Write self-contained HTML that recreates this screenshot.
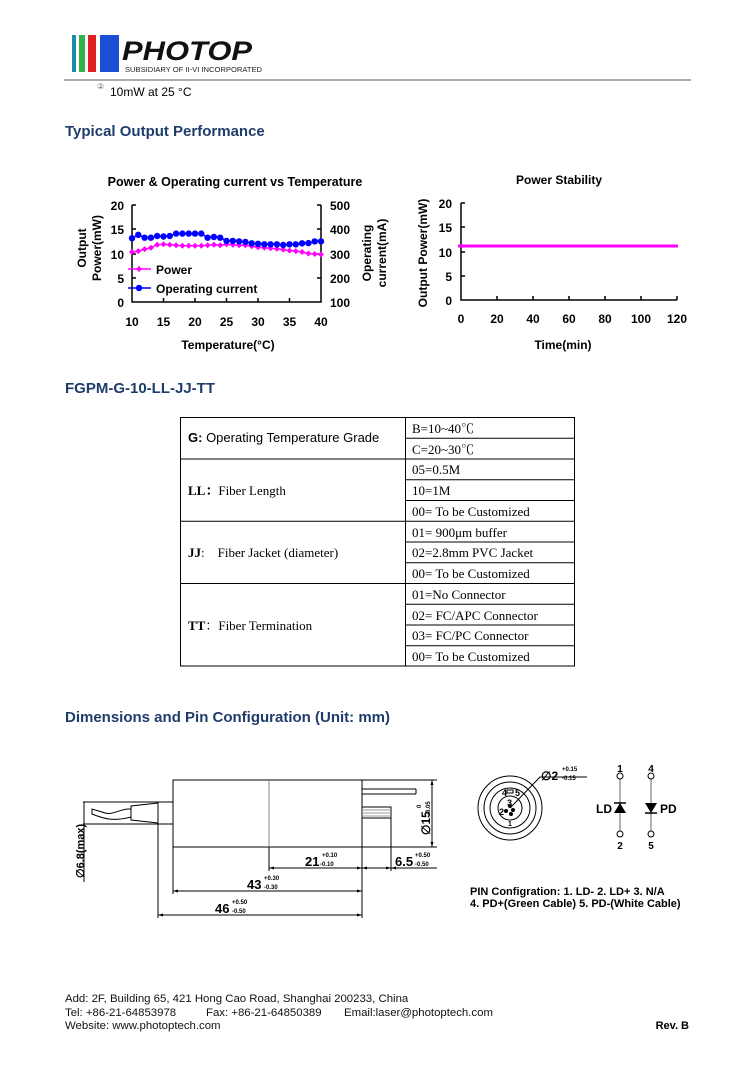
<!DOCTYPE html>
<html><head><meta charset="utf-8"><style>
html,body{margin:0;padding:0;background:#fff;}
svg{display:block;font-family:"Liberation Sans",Arial,sans-serif;}
.h{font-weight:bold;font-size:15px;fill:#1f3d6b;}
.b{font-weight:bold;font-size:12px;}
.t{font-family:"Liberation Serif","Noto Serif CJK SC",serif;font-size:13px;}
</style></head><body>
<svg width="754" height="1067" viewBox="0 0 754 1067" xmlns="http://www.w3.org/2000/svg">
<!-- header -->
<rect x="72" y="35" width="4" height="37" fill="#1a8ab0"/>
<rect x="79" y="35" width="6" height="37" fill="#2fb34a"/>
<rect x="88" y="35" width="8" height="37" fill="#e02020"/>
<rect x="100" y="35" width="19" height="37" fill="#1d4fd6"/>
<text x="122" y="60" font-size="27" font-weight="bold" font-style="italic" fill="#111" textLength="130" lengthAdjust="spacingAndGlyphs">PHOTOP</text>
<text x="125" y="72" font-size="7" fill="#222" textLength="137" lengthAdjust="spacingAndGlyphs">SUBSIDIARY OF II-VI INCORPORATED</text>
<line x1="64" y1="80" x2="691" y2="80" stroke="#777" stroke-width="1.2"/>
<text x="97" y="89" font-size="8" fill="#666">②</text>
<text x="110" y="96" font-size="12">10mW at 25 °C</text>
<text x="65" y="136" class="h">Typical Output Performance</text>

<!-- left chart -->
<text x="235" y="186" font-size="12.5" font-weight="bold" text-anchor="middle">Power &amp; Operating current vs Temperature</text>
<g stroke="#000" stroke-width="1.5" fill="none">
<polyline points="132,205 132,302 321,302 321,205"/>
</g>
<g stroke="#000" stroke-width="1.5">
<line x1="132" y1="205" x2="136" y2="205"/><line x1="132" y1="229" x2="136" y2="229"/><line x1="132" y1="254" x2="136" y2="254"/><line x1="132" y1="278" x2="136" y2="278"/>
<line x1="317" y1="205" x2="321" y2="205"/><line x1="317" y1="229" x2="321" y2="229"/><line x1="317" y1="254" x2="321" y2="254"/><line x1="317" y1="278" x2="321" y2="278"/>
<line x1="163.5" y1="302" x2="163.5" y2="298"/><line x1="195" y1="302" x2="195" y2="298"/><line x1="226.5" y1="302" x2="226.5" y2="298"/><line x1="258" y1="302" x2="258" y2="298"/><line x1="289.5" y1="302" x2="289.5" y2="298"/>
</g>
<g class="b" text-anchor="end">
<text x="124" y="210" class="b">20</text><text x="124" y="234" class="b">15</text><text x="124" y="259" class="b">10</text><text x="124" y="283" class="b">5</text><text x="124" y="307" class="b">0</text>
</g>
<g class="b">
<text x="330" y="210" class="b">500</text><text x="330" y="234" class="b">400</text><text x="330" y="259" class="b">300</text><text x="330" y="283" class="b">200</text><text x="330" y="307" class="b">100</text>
</g>
<g class="b" text-anchor="middle">
<text x="132" y="326" class="b">10</text><text x="163.5" y="326" class="b">15</text><text x="195" y="326" class="b">20</text><text x="226.5" y="326" class="b">25</text><text x="258" y="326" class="b">30</text><text x="289.5" y="326" class="b">35</text><text x="321" y="326" class="b">40</text>
<text x="228" y="349" class="b">Temperature(°C)</text>
</g>
<text transform="translate(86,248) rotate(-90)" class="b" text-anchor="middle">Output</text>
<text transform="translate(101,248) rotate(-90)" class="b" text-anchor="middle">Power(mW)</text>
<text transform="translate(371,253) rotate(-90)" class="b" text-anchor="middle">Operating</text>
<text transform="translate(386,253) rotate(-90)" class="b" text-anchor="middle">current(mA)</text>
<polyline fill="none" stroke="#ff00ff" stroke-width="1.5" points="132,252 138.3,251.1 144.6,249.1 150.9,247.7 157.2,244.8 163.5,244.3 169.8,244.8 176.1,245.3 182.4,245.7 188.7,245.7 195,245.7 201.3,245.7 207.6,245.3 213.9,244.8 220.2,245.3 226.5,244.3 232.8,244.8 239.1,245.3 245.4,245.3 251.7,246.2 258,247.2 264.3,247.7 270.6,248.2 276.9,248.7 283.2,249.6 289.5,250.6 295.8,251.1 302.1,252 308.4,253.5 314.7,254 321,254.5"/>
<g fill="#ff00ff">
<path d="M132 249l3 3-3 3-3-3z M138.3 248.1l3 3-3 3-3-3z M144.6 246.1l3 3-3 3-3-3z M150.9 244.7l3 3-3 3-3-3z M157.2 241.8l3 3-3 3-3-3z M163.5 241.3l3 3-3 3-3-3z M169.8 241.8l3 3-3 3-3-3z M176.1 242.3l3 3-3 3-3-3z M182.4 242.7l3 3-3 3-3-3z M188.7 242.7l3 3-3 3-3-3z M195 242.7l3 3-3 3-3-3z M201.3 242.7l3 3-3 3-3-3z M207.6 242.3l3 3-3 3-3-3z M213.9 241.8l3 3-3 3-3-3z M220.2 242.3l3 3-3 3-3-3z M226.5 241.3l3 3-3 3-3-3z M232.8 241.8l3 3-3 3-3-3z M239.1 242.3l3 3-3 3-3-3z M245.4 242.3l3 3-3 3-3-3z M251.7 243.2l3 3-3 3-3-3z M258 244.2l3 3-3 3-3-3z M264.3 244.7l3 3-3 3-3-3z M270.6 245.2l3 3-3 3-3-3z M276.9 245.7l3 3-3 3-3-3z M283.2 246.6l3 3-3 3-3-3z M289.5 247.6l3 3-3 3-3-3z M295.8 248.1l3 3-3 3-3-3z M302.1 249l3 3-3 3-3-3z M308.4 250.5l3 3-3 3-3-3z M314.7 251l3 3-3 3-3-3z M321 251.5l3 3-3 3-3-3z"/>
</g>
<polyline fill="none" stroke="#0000ff" stroke-width="1.5" points="132,238.2 138.3,234.8 144.6,237.7 150.9,237.7 157.2,236 163.5,236.5 169.8,236 176.1,233.6 182.4,233.6 188.7,233.6 195,233.6 201.3,233.6 207.6,237.7 213.9,237 220.2,237.7 226.5,240.9 232.8,240.9 239.1,241.4 245.4,241.9 251.7,243.3 258,243.8 264.3,244.3 270.6,244.3 276.9,244.3 283.2,245 289.5,244.3 295.8,244.3 302.1,243.3 308.4,243.1 314.7,241.4 321,241.4"/>
<g fill="#0000ff">
<circle cx="132" cy="238.2" r="3.2"/><circle cx="138.3" cy="234.8" r="3.2"/><circle cx="144.6" cy="237.7" r="3.2"/><circle cx="150.9" cy="237.7" r="3.2"/><circle cx="157.2" cy="236" r="3.2"/><circle cx="163.5" cy="236.5" r="3.2"/><circle cx="169.8" cy="236" r="3.2"/><circle cx="176.1" cy="233.6" r="3.2"/><circle cx="182.4" cy="233.6" r="3.2"/><circle cx="188.7" cy="233.6" r="3.2"/><circle cx="195" cy="233.6" r="3.2"/><circle cx="201.3" cy="233.6" r="3.2"/><circle cx="207.6" cy="237.7" r="3.2"/><circle cx="213.9" cy="237" r="3.2"/><circle cx="220.2" cy="237.7" r="3.2"/><circle cx="226.5" cy="240.9" r="3.2"/><circle cx="232.8" cy="240.9" r="3.2"/><circle cx="239.1" cy="241.4" r="3.2"/><circle cx="245.4" cy="241.9" r="3.2"/><circle cx="251.7" cy="243.3" r="3.2"/><circle cx="258" cy="243.8" r="3.2"/><circle cx="264.3" cy="244.3" r="3.2"/><circle cx="270.6" cy="244.3" r="3.2"/><circle cx="276.9" cy="244.3" r="3.2"/><circle cx="283.2" cy="245" r="3.2"/><circle cx="289.5" cy="244.3" r="3.2"/><circle cx="295.8" cy="244.3" r="3.2"/><circle cx="302.1" cy="243.3" r="3.2"/><circle cx="308.4" cy="243.1" r="3.2"/><circle cx="314.7" cy="241.4" r="3.2"/><circle cx="321" cy="241.4" r="3.2"/>
</g>
<line x1="128" y1="269" x2="151" y2="269" stroke="#ff00ff" stroke-width="1.5"/><path d="M139 266l3 3-3 3-3-3z" fill="#ff00ff"/>
<text x="156" y="274" class="b">Power</text>
<line x1="128" y1="288" x2="151" y2="288" stroke="#0000ff" stroke-width="1.5"/><circle cx="139" cy="288" r="3.2" fill="#0000ff"/>
<text x="156" y="293" class="b">Operating current</text>

<!-- right chart -->
<text x="559" y="184" class="b" text-anchor="middle">Power Stability</text>
<polyline points="461,203 461,300 677,300" fill="none" stroke="#000" stroke-width="1.5"/>
<g stroke="#000" stroke-width="1.5">
<line x1="461" y1="203" x2="465" y2="203"/><line x1="461" y1="227" x2="465" y2="227"/><line x1="461" y1="252" x2="465" y2="252"/><line x1="461" y1="276" x2="465" y2="276"/>
<line x1="497" y1="300" x2="497" y2="296"/><line x1="533" y1="300" x2="533" y2="296"/><line x1="569" y1="300" x2="569" y2="296"/><line x1="605" y1="300" x2="605" y2="296"/><line x1="641" y1="300" x2="641" y2="296"/><line x1="677" y1="300" x2="677" y2="296"/>
</g>
<line x1="458" y1="246" x2="678" y2="246" stroke="#ff00ff" stroke-width="3"/>
<g text-anchor="end">
<text x="452" y="208" class="b">20</text><text x="452" y="232" class="b">15</text><text x="452" y="257" class="b">10</text><text x="452" y="281" class="b">5</text><text x="452" y="305" class="b">0</text>
</g>
<g text-anchor="middle">
<text x="461" y="323" class="b">0</text><text x="497" y="323" class="b">20</text><text x="533" y="323" class="b">40</text><text x="569" y="323" class="b">60</text><text x="605" y="323" class="b">80</text><text x="641" y="323" class="b">100</text><text x="677" y="323" class="b">120</text>
<text x="563" y="349" class="b">Time(min)</text>
</g>
<text transform="translate(427,253) rotate(-90)" class="b" text-anchor="middle">Output Power(mW)</text>

<text x="65" y="393" class="h">FGPM-G-10-LL-JJ-TT</text>

<!-- table -->
<g stroke="#000" stroke-width="1" fill="none">
<rect x="180.5" y="417.5" width="394" height="248.5"/>
<line x1="405.5" y1="417.5" x2="405.5" y2="666"/>
<line x1="405.5" y1="438.2" x2="574.5" y2="438.2"/>
<line x1="180.5" y1="459" x2="574.5" y2="459"/>
<line x1="405.5" y1="479.7" x2="574.5" y2="479.7"/>
<line x1="405.5" y1="500.5" x2="574.5" y2="500.5"/>
<line x1="180.5" y1="521.2" x2="574.5" y2="521.2"/>
<line x1="405.5" y1="542" x2="574.5" y2="542"/>
<line x1="405.5" y1="562.7" x2="574.5" y2="562.7"/>
<line x1="180.5" y1="583.5" x2="574.5" y2="583.5"/>
<line x1="405.5" y1="604.2" x2="574.5" y2="604.2"/>
<line x1="405.5" y1="625" x2="574.5" y2="625"/>
<line x1="405.5" y1="645.7" x2="574.5" y2="645.7"/>
</g>
<text x="188" y="442" font-size="13"><tspan font-weight="bold">G:</tspan> Operating Temperature Grade</text>
<text x="188" y="495" class="t"><tspan font-weight="bold">LL：</tspan>Fiber Length</text>
<text x="188" y="557" class="t"><tspan font-weight="bold">JJ</tspan>:　Fiber Jacket (diameter)</text>
<text x="188" y="630" class="t"><tspan font-weight="bold">TT</tspan>：Fiber Termination</text>
<g class="t">
<text x="412" y="433" class="t">B=10~40℃</text>
<text x="412" y="454" class="t">C=20~30℃</text>
<text x="412" y="474" class="t">05=0.5M</text>
<text x="412" y="495" class="t">10=1M</text>
<text x="412" y="516" class="t">00= To be Customized</text>
<text x="412" y="537" class="t">01= 900μm buffer</text>
<text x="412" y="557" class="t">02=2.8mm PVC Jacket</text>
<text x="412" y="578" class="t">00= To be Customized</text>
<text x="412" y="599" class="t">01=No Connector</text>
<text x="412" y="620" class="t">02= FC/APC Connector</text>
<text x="412" y="640" class="t">03= FC/PC Connector</text>
<text x="412" y="661" class="t">00= To be Customized</text>
</g>

<text x="65" y="722" class="h">Dimensions and Pin Configuration (Unit: mm)</text>

<!-- mechanical drawing -->
<g stroke="#000" stroke-width="1" fill="none">
<rect x="173" y="780" width="189" height="67"/>
<line x1="269" y1="780" x2="269" y2="847" stroke="#888"/>
<line x1="362" y1="789" x2="416" y2="789"/><line x1="362" y1="794" x2="416" y2="794"/><line x1="416" y1="789" x2="416" y2="794"/>
<rect x="362" y="807" width="29" height="11"/>
<line x1="362" y1="810" x2="391" y2="810" stroke="#999"/><line x1="362" y1="813" x2="391" y2="813" stroke="#999"/><line x1="362" y1="816" x2="391" y2="816" stroke="#999"/>
<rect x="158" y="802" width="15" height="22"/>
<path d="M158 803 L131 806 L131 820 L158 823"/>
<path d="M131 809 C120 808 112 817 102 812 L92 809 L92 814 C102 818 112 822 131 817"/>
<line x1="83" y1="802" x2="158" y2="802"/><line x1="83" y1="824" x2="158" y2="824"/>
<line x1="84" y1="802" x2="84" y2="882"/>
<line x1="173" y1="847" x2="173" y2="894"/>
<line x1="158" y1="824" x2="158" y2="918"/>
<line x1="269" y1="847" x2="269" y2="871"/>
<line x1="362" y1="847" x2="362" y2="918"/>
<line x1="391" y1="818" x2="391" y2="871"/>
<line x1="362" y1="780" x2="437" y2="780"/><line x1="362" y1="847" x2="437" y2="847"/>
<line x1="432" y1="780" x2="432" y2="847"/>
<line x1="269" y1="868" x2="437" y2="868"/>
<line x1="173" y1="891" x2="362" y2="891"/>
<line x1="158" y1="915" x2="362" y2="915"/>
</g>
<g fill="#000">
<path d="M269 868l5-1.5v3z M362 868l-5-1.5v3z M362 868l5-1.5v3z M391 868l-5-1.5v3z M391 868l5-1.5v3z M173 891l5-1.5v3z M362 891l-5-1.5v3z M158 915l5-1.5v3z M362 915l-5-1.5v3z M432 780l-1.5 5h3z M432 847l-1.5-5h3z"/>
</g>
<text transform="translate(84,878) rotate(-90)" font-size="11" font-weight="bold">∅6.8(max)</text>
<text transform="translate(430,835) rotate(-90)" font-size="12" font-weight="bold">∅15</text>
<text transform="translate(421,808) rotate(-90)" font-size="6" font-weight="bold">0</text>
<text transform="translate(430,815) rotate(-90)" font-size="6" font-weight="bold">-0.05</text>
<text x="305" y="866" font-size="13" font-weight="bold">21</text><text x="322" y="857" font-size="6" font-weight="bold">+0.10</text><text x="320" y="866" font-size="6" font-weight="bold">-0.10</text>
<text x="395" y="866" font-size="13" font-weight="bold">6.5</text><text x="415" y="857" font-size="6" font-weight="bold">+0.50</text><text x="415" y="866" font-size="6" font-weight="bold">-0.50</text>
<text x="247" y="889" font-size="13" font-weight="bold">43</text><text x="264" y="880" font-size="6" font-weight="bold">+0.30</text><text x="264" y="889" font-size="6" font-weight="bold">-0.30</text>
<text x="215" y="913" font-size="13" font-weight="bold">46</text><text x="232" y="904" font-size="6" font-weight="bold">+0.50</text><text x="232" y="913" font-size="6" font-weight="bold">-0.50</text>

<!-- pin circles -->
<g stroke="#000" stroke-width="1" fill="none">
<circle cx="510" cy="808" r="32"/><circle cx="510" cy="808" r="26"/><circle cx="510" cy="808" r="20"/><circle cx="510" cy="808" r="12"/>
<polyline points="512,806 540,777 587,777"/>
<rect x="507" y="790" width="6" height="3"/>
</g>
<g fill="#000"><circle cx="510" cy="806" r="2"/><circle cx="513" cy="810" r="2"/><circle cx="506" cy="811" r="2"/><circle cx="511" cy="814" r="2"/></g>
<text x="502" y="796" font-size="9" font-weight="bold">4</text><text x="515" y="796" font-size="9" font-weight="bold">5</text>
<text x="507" y="806" font-size="9" font-weight="bold">3</text><text x="499" y="815" font-size="9" font-weight="bold">2</text><text x="508" y="826" font-size="7" font-weight="bold">1</text>
<text x="541" y="780" font-size="12" font-weight="bold">∅2</text><text x="562" y="771" font-size="6" font-weight="bold">+0.15</text><text x="562" y="780" font-size="6" font-weight="bold">-0.15</text>
<!-- diodes -->
<g stroke="#999" stroke-width="1.5"><line x1="620" y1="778" x2="620" y2="832"/><line x1="651" y1="778" x2="651" y2="832"/></g>
<g stroke="#000" stroke-width="1" fill="#fff"><circle cx="620" cy="776" r="3"/><circle cx="620" cy="834" r="3"/><circle cx="651" cy="776" r="3"/><circle cx="651" cy="834" r="3"/></g>
<path d="M614 813 L626 813 L620 803 Z" fill="#000"/><line x1="614" y1="803" x2="626" y2="803" stroke="#000" stroke-width="1.5"/>
<path d="M645 803 L657 803 L651 813 Z" fill="#000"/><line x1="645" y1="813" x2="657" y2="813" stroke="#000" stroke-width="1.5"/>
<g font-size="10" font-weight="bold" text-anchor="middle">
<text x="620" y="772">1</text><text x="620" y="849">2</text><text x="651" y="772">4</text><text x="651" y="849">5</text>
</g>
<text x="596" y="813" font-size="12" font-weight="bold">LD</text>
<text x="660" y="813" font-size="12" font-weight="bold">PD</text>
<text x="470" y="895" font-size="11" font-weight="bold">PIN Configration: 1. LD-  2. LD+  3. N/A</text>
<text x="470" y="907" font-size="11" font-weight="bold">4. PD+(Green Cable)  5. PD-(White Cable)</text>

<!-- footer -->
<g font-size="11.4" fill="#111">
<text x="65" y="1002">Add: 2F, Building 65, 421 Hong Cao Road, Shanghai 200233, China</text>
<text x="65" y="1016">Tel: +86-21-64853978</text><text x="206" y="1016">Fax: +86-21-64850389</text><text x="344" y="1016">Email:laser@photoptech.com</text>
<text x="65" y="1029">Website: www.photoptech.com</text>
</g>
<text x="689" y="1029" font-size="11" font-weight="bold" text-anchor="end">Rev. B</text>
</svg>
</body></html>
